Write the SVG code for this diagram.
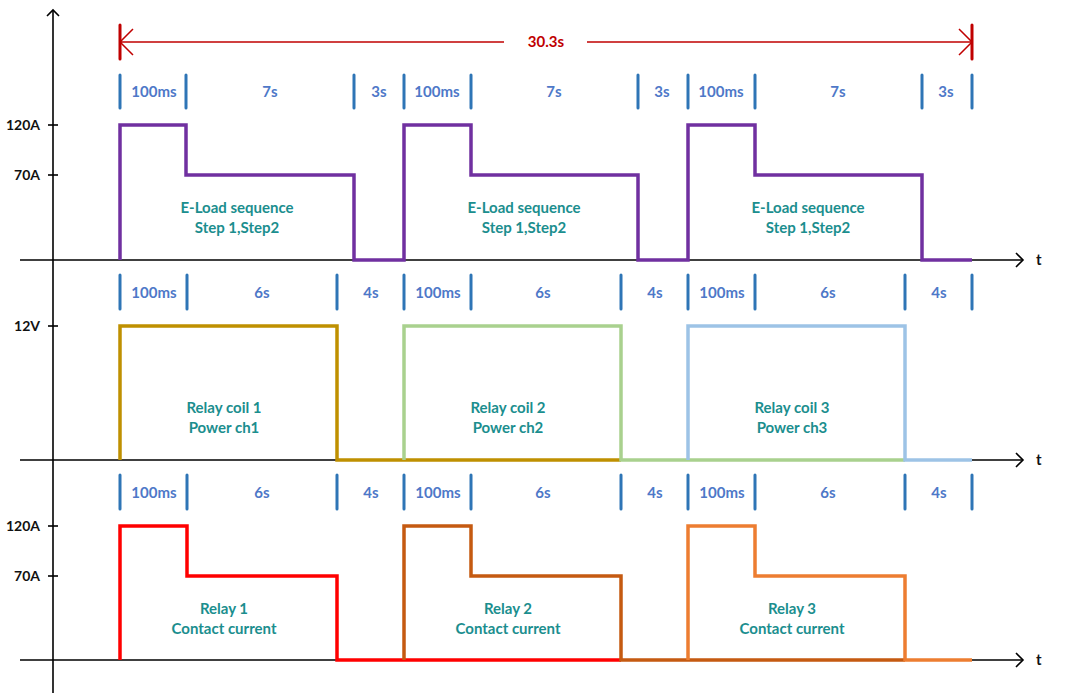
<svg xmlns="http://www.w3.org/2000/svg" width="1080" height="698" viewBox="0 0 1080 698">
<style>
.ax{stroke:#000;stroke-width:1.6;fill:none}
.ah{stroke:#000;stroke-width:1.6;fill:none;stroke-linejoin:miter}
.bar{stroke:#2E75B6;stroke-width:3;stroke-linecap:round}
.dur{font-family:Lato,"Liberation Sans",sans-serif;font-size:15px;font-weight:bold;fill:#4E78C8;text-anchor:middle}
.yl{font-family:Lato,"Liberation Sans",sans-serif;font-size:14px;font-weight:bold;fill:#111;text-anchor:end}
.tl{font-family:Lato,"Liberation Sans",sans-serif;font-size:15px;font-weight:bold;fill:#111}
.lab{font-family:Lato,"Liberation Sans",sans-serif;font-size:15px;font-weight:bold;fill:#1B8E8E;text-anchor:middle}
.w{fill:none;stroke-width:3.5;stroke-linejoin:miter}
</style>
<rect width="1080" height="698" fill="#fff"/>
<g id="axes">
<line class="ax" x1="53" y1="10" x2="53" y2="693"/>
<polyline class="ah" points="47,16 53,10 59,16"/>
<line class="ax" x1="20" y1="260" x2="1022" y2="260"/>
<polyline class="ah" points="1016,253 1023,260 1016,267"/>
<line class="ax" x1="20" y1="460" x2="1022" y2="460"/>
<polyline class="ah" points="1016,453 1023,460 1016,467"/>
<line class="ax" x1="20" y1="660" x2="1022" y2="660"/>
<polyline class="ah" points="1016,653 1023,660 1016,667"/>
<g class="ax">
<line x1="48" y1="125" x2="58" y2="125"/>
<line x1="48" y1="175" x2="58" y2="175"/>
<line x1="48" y1="326" x2="58" y2="326"/>
<line x1="48" y1="526" x2="58" y2="526"/>
<line x1="48" y1="576" x2="58" y2="576"/>
</g>
<text class="yl" x="40" y="130">120A</text>
<text class="yl" x="40" y="180">70A</text>
<text class="yl" x="40" y="331">12V</text>
<text class="yl" x="40" y="531">120A</text>
<text class="yl" x="40" y="581">70A</text>
<text class="tl" x="1036" y="265">t</text>
<text class="tl" x="1036" y="465">t</text>
<text class="tl" x="1036" y="665">t</text>
</g>
<g id="total-span">
<line x1="121" y1="42" x2="504" y2="42" stroke="#C00000" stroke-width="1.5"/>
<line x1="587" y1="42" x2="971" y2="42" stroke="#C00000" stroke-width="1.5"/>
<polyline points="133,29 120,42 133,55" fill="none" stroke="#C00000" stroke-width="1.5"/>
<polyline points="959,29 972,42 959,55" fill="none" stroke="#C00000" stroke-width="1.5"/>
<line x1="120" y1="25" x2="120" y2="59" stroke="#C00000" stroke-width="3" stroke-linecap="round"/>
<line x1="972" y1="25" x2="972" y2="59" stroke="#C00000" stroke-width="3" stroke-linecap="round"/>
<text x="546" y="47" font-family="Lato,'Liberation Sans',sans-serif" font-size="15" font-weight="bold" fill="#C00000" text-anchor="middle">30.3s</text>
</g>
<g id="durations-row1">
<g class="bar">
<line x1="120" y1="75" x2="120" y2="108"/><line x1="186" y1="75" x2="186" y2="108"/><line x1="354" y1="75" x2="354" y2="108"/>
<line x1="404" y1="75" x2="404" y2="108"/><line x1="471" y1="75" x2="471" y2="108"/><line x1="638" y1="75" x2="638" y2="108"/>
<line x1="688" y1="75" x2="688" y2="108"/><line x1="755" y1="75" x2="755" y2="108"/><line x1="922" y1="75" x2="922" y2="108"/>
<line x1="972" y1="75" x2="972" y2="108"/>
</g>
<text class="dur" x="154" y="97">100ms</text><text class="dur" x="270" y="97">7s</text><text class="dur" x="379" y="97">3s</text>
<text class="dur" x="437" y="97">100ms</text><text class="dur" x="554" y="97">7s</text><text class="dur" x="662" y="97">3s</text>
<text class="dur" x="721" y="97">100ms</text><text class="dur" x="838" y="97">7s</text><text class="dur" x="946" y="97">3s</text>
</g>
<g id="durations-row2">
<g class="bar">
<line x1="120" y1="275" x2="120" y2="309"/><line x1="187" y1="275" x2="187" y2="309"/><line x1="337" y1="275" x2="337" y2="309"/>
<line x1="404" y1="275" x2="404" y2="309"/><line x1="471" y1="275" x2="471" y2="309"/><line x1="621" y1="275" x2="621" y2="309"/>
<line x1="688" y1="275" x2="688" y2="309"/><line x1="755" y1="275" x2="755" y2="309"/><line x1="905" y1="275" x2="905" y2="309"/>
<line x1="972" y1="275" x2="972" y2="309"/>
</g>
<text class="dur" x="154" y="298">100ms</text><text class="dur" x="262" y="298">6s</text><text class="dur" x="371" y="298">4s</text>
<text class="dur" x="438" y="298">100ms</text><text class="dur" x="543" y="298">6s</text><text class="dur" x="655" y="298">4s</text>
<text class="dur" x="722" y="298">100ms</text><text class="dur" x="828" y="298">6s</text><text class="dur" x="939" y="298">4s</text>
</g>
<g id="durations-row3">
<g class="bar">
<line x1="120" y1="475" x2="120" y2="509"/><line x1="187" y1="475" x2="187" y2="509"/><line x1="337" y1="475" x2="337" y2="509"/>
<line x1="404" y1="475" x2="404" y2="509"/><line x1="471" y1="475" x2="471" y2="509"/><line x1="621" y1="475" x2="621" y2="509"/>
<line x1="688" y1="475" x2="688" y2="509"/><line x1="755" y1="475" x2="755" y2="509"/><line x1="905" y1="475" x2="905" y2="509"/>
<line x1="972" y1="475" x2="972" y2="509"/>
</g>
<text class="dur" x="154" y="498">100ms</text><text class="dur" x="262" y="498">6s</text><text class="dur" x="371" y="498">4s</text>
<text class="dur" x="438" y="498">100ms</text><text class="dur" x="543" y="498">6s</text><text class="dur" x="655" y="498">4s</text>
<text class="dur" x="722" y="498">100ms</text><text class="dur" x="828" y="498">6s</text><text class="dur" x="939" y="498">4s</text>
</g>
<g id="eload">
<polyline class="w" stroke="#7030A0" points="120,260 120,125 186,125 186,175 354,175 354,260 404,260 404,125 471,125 471,175 638,175 638,260 688,260 688,125 755,125 755,175 922,175 922,260 972,260"/>
<text class="lab" x="237" y="213">E-Load sequence</text><text class="lab" x="237" y="233">Step 1,Step2</text>
<text class="lab" x="524" y="213">E-Load sequence</text><text class="lab" x="524" y="233">Step 1,Step2</text>
<text class="lab" x="808" y="213">E-Load sequence</text><text class="lab" x="808" y="233">Step 1,Step2</text>
</g>
<g id="relay-coil-1">
<polyline class="w" stroke="#BF9000" points="120,460 120,326 337,326 337,460 621,460"/>
<text class="lab" x="224" y="413">Relay coil 1</text><text class="lab" x="224" y="433">Power ch1</text>
</g>
<g id="relay-coil-2">
<polyline class="w" stroke="#A9D18E" points="404,460 404,326 621,326 621,460 905,460"/>
<text class="lab" x="508" y="413">Relay coil 2</text><text class="lab" x="508" y="433">Power ch2</text>
</g>
<g id="relay-coil-3">
<polyline class="w" stroke="#9DC3E6" points="688,460 688,326 905,326 905,460 972,460"/>
<text class="lab" x="792" y="413">Relay coil 3</text><text class="lab" x="792" y="433">Power ch3</text>
</g>
<g id="relay-1">
<polyline class="w" stroke="#FF0000" points="120,660 120,526 187,526 187,576 337,576 337,660 621,660"/>
<text class="lab" x="224" y="614">Relay 1</text><text class="lab" x="224" y="634">Contact current</text>
</g>
<g id="relay-2">
<polyline class="w" stroke="#C55A11" points="404,660 404,526 471,526 471,576 621,576 621,660 905,660"/>
<text class="lab" x="508" y="614">Relay 2</text><text class="lab" x="508" y="634">Contact current</text>
</g>
<g id="relay-3">
<polyline class="w" stroke="#ED7D31" points="688,660 688,526 755,526 755,576 905,576 905,660 972,660"/>
<text class="lab" x="792" y="614">Relay 3</text><text class="lab" x="792" y="634">Contact current</text>
</g>
</svg>
